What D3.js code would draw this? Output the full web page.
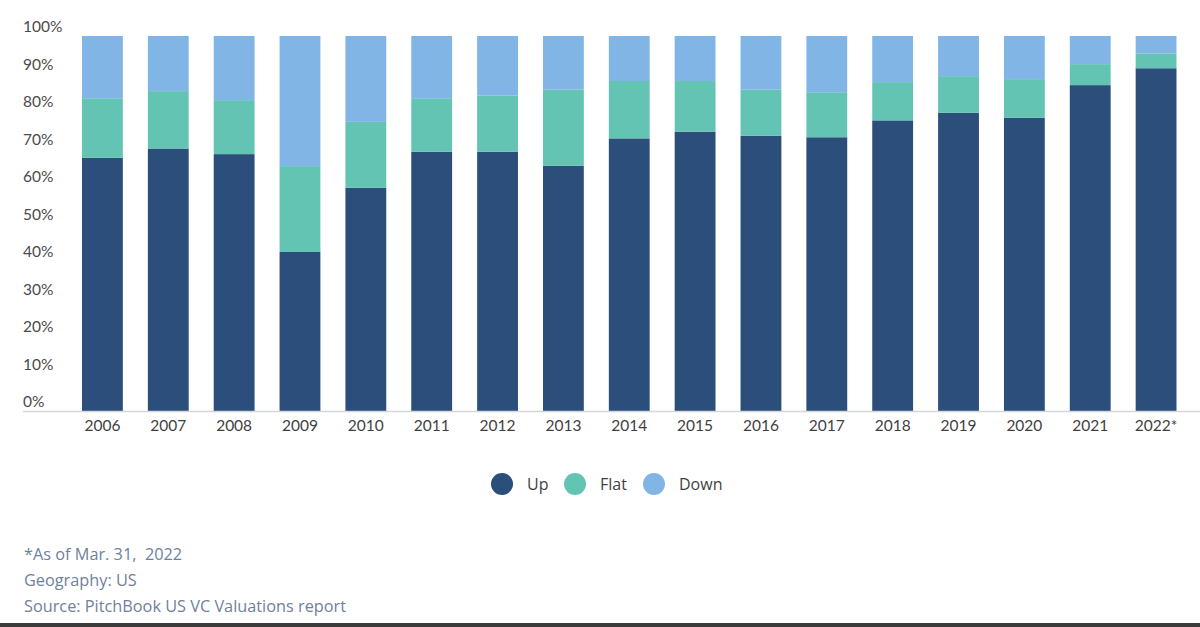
<!DOCTYPE html>
<html lang="en">
<head>
<meta charset="UTF-8">
<title>VC valuations: up, flat, down</title>
<style>
  body { margin: 0; background: #fff; }
  svg { display: block; }
  .ytick text { font-family: Lato, sans-serif; font-size: 15.5px; fill: #4a4a4a; }
  .xtick text { font-family: Lato, sans-serif; font-size: 15.5px; fill: #3f3f3f; }
  .legend text { font-family: "Open Sans", sans-serif; font-size: 16px; fill: #3f3f3f; }
  .note { font-family: "Open Sans", sans-serif; font-size: 16.3px; fill: #6f7f9c; white-space: pre; }
</style>
</head>
<body>
<script src="https://cdn.jsdelivr.net/npm/d3@7"></script>
<script>
// share of deals per year (%)
var years = ['2006','2007','2008','2009','2010','2011','2012','2013','2014','2015','2016','2017','2018','2019','2020','2021','2022*'];
var up    = [67.5, 70.0, 68.5, 42.4, 59.5, 69.1, 69.1, 65.4, 72.7, 74.5, 73.4, 73.0, 77.5, 79.5, 78.2, 86.9, 91.4];
var flat  = [15.9, 15.3, 14.4, 22.9, 17.6, 14.3, 15.0, 20.3, 15.3, 13.5, 12.3, 12.0, 10.2,  9.8, 10.3,  5.6,  3.9];
var down  = [16.6, 14.7, 17.1, 34.7, 22.9, 16.6, 15.9, 14.3, 12.0, 12.0, 14.3, 15.0, 12.3, 10.7, 11.5,  7.5,  4.7];
var seriesNames = ['Up', 'Flat', 'Down'];
var colors = ['#2b4e7b', '#63c4b3', '#81b5e5'];
var yTicks = [0, 10, 20, 30, 40, 50, 60, 70, 80, 90, 100];
var notes = ['*As of Mar. 31,  2022', 'Geography: US', 'Source: PitchBook US VC Valuations report'];

var W = 1200, H = 627;
var svg = d3.select('body').append('svg').attr('width', W).attr('height', H);

var rows = years.map(function(y, i) { return {year: y, Up: up[i], Flat: flat[i], Down: down[i]}; });
var stack = d3.stack().keys(seriesNames)(rows);

var x = d3.scaleBand().domain(years).range([69.5, 1189]).paddingInner(0.38).paddingOuter(0.19);
var y = d3.scaleLinear().domain([0, 100]).range([411, 36]);
var color = d3.scaleOrdinal().domain(seriesNames).range(colors);

// y labels sit above their value line, left aligned
var yAxis = svg.append('g').attr('class', 'ytick');
yAxis.selectAll('text').data(yTicks).join('text')
  .attr('x', 23).attr('y', function(d) { return y(d) - 9; })
  .attr('dy', '0.35em')
  .text(function(d) { return d + '%'; });

svg.selectAll('g.layer').data(stack).join('g')
  .attr('class', 'layer')
  .attr('fill', function(d) { return color(d.key); })
  .selectAll('rect').data(function(d) { return d; }).join('rect')
  .attr('x', function(d) { return x(d.data.year); })
  .attr('width', x.bandwidth())
  .attr('y', function(d) { return y(d[1]); })
  .attr('height', function(d) { return y(d[0]) - y(d[1]); });

// baseline
svg.append('line').attr('x1', 23).attr('x2', W).attr('y1', 411.5).attr('y2', 411.5)
  .attr('stroke', '#d3d6db').attr('stroke-width', 1.5);

var xAxis = svg.append('g').attr('class', 'xtick');
xAxis.selectAll('text').data(years).join('text')
  .attr('x', function(d) { return x(d) + x.bandwidth() / 2; })
  .attr('y', 426).attr('dy', '0.35em').attr('text-anchor', 'middle')
  .text(function(d) { return d; });

// legend
var legendX = [502, 575, 654];
var lg = svg.append('g').attr('class', 'legend');
var item = lg.selectAll('g').data(seriesNames).join('g')
  .attr('transform', function(d, i) { return 'translate(' + legendX[i] + ',484)'; });
item.append('circle').attr('r', 11).attr('fill', function(d) { return color(d); });
item.append('text').attr('x', 25).attr('dy', '0.35em').text(function(d) { return d; });

svg.selectAll('text.note').data(notes).join('text')
  .attr('class', 'note')
  .attr('x', 24).attr('y', function(d, i) { return 554 + i * 26; })
  .attr('dy', '0.35em')
  .text(function(d) { return d; });

svg.append('rect').attr('x', 0).attr('y', 623).attr('width', W).attr('height', 4).attr('fill', '#3b3b3b');
</script>
</body>
</html>
